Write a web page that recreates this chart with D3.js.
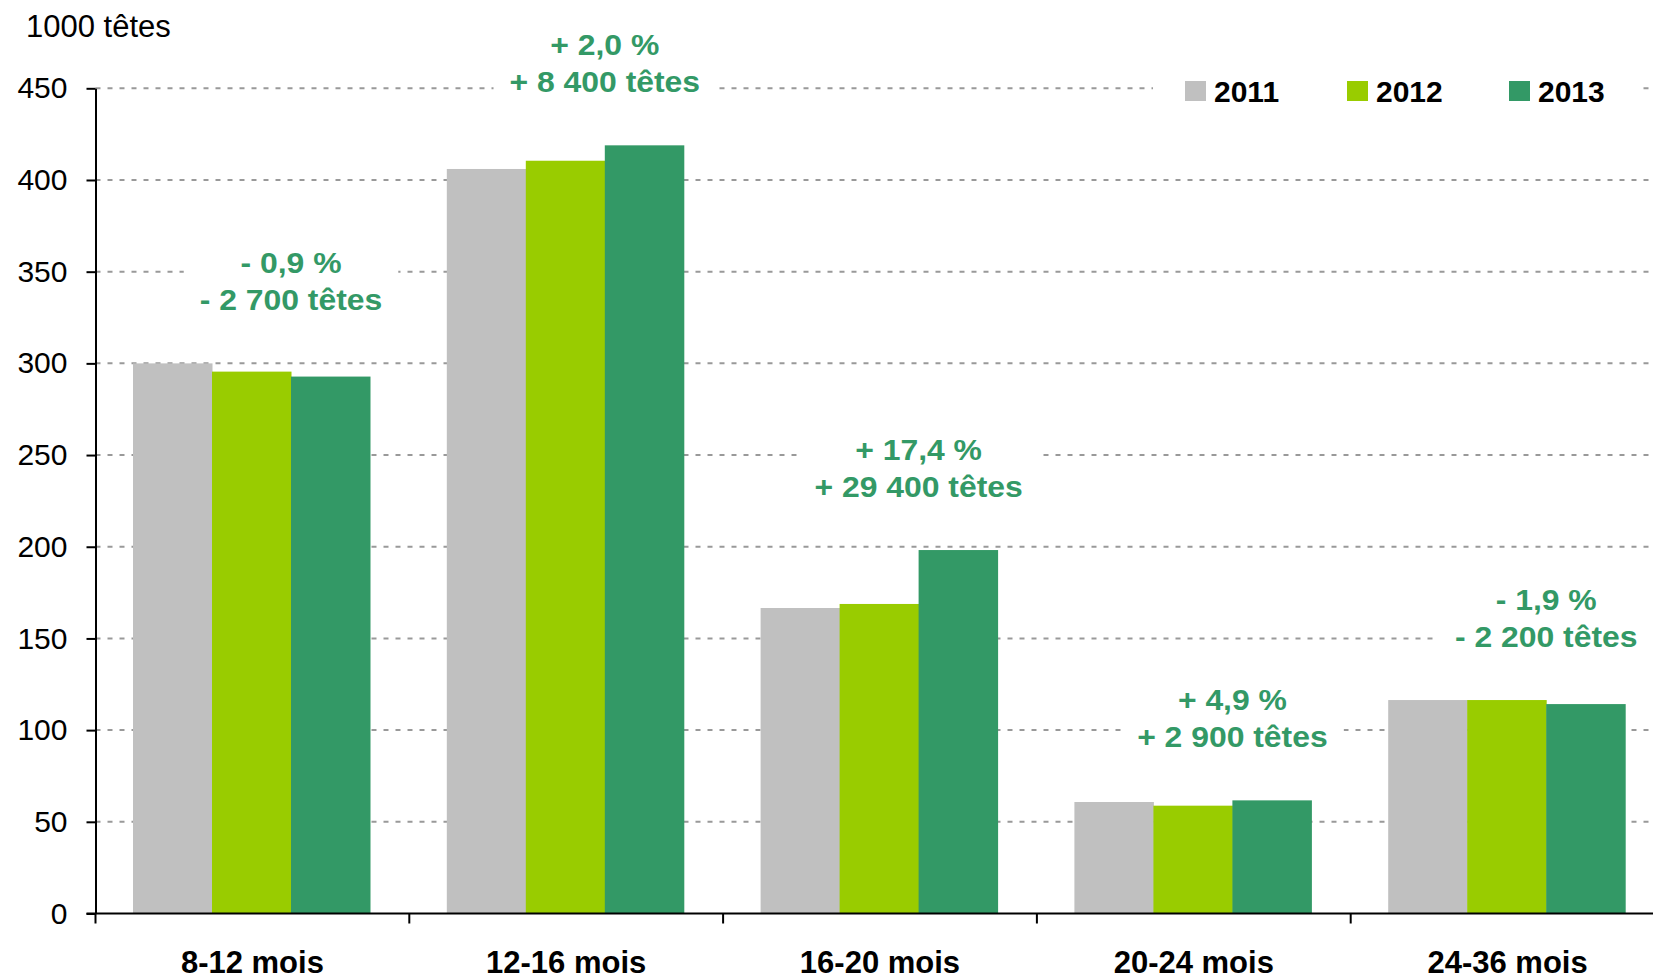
<!DOCTYPE html>
<html>
<head>
<meta charset="utf-8">
<script src="https://cdn.jsdelivr.net/npm/d3@7"></script>
<style>
  body { margin: 0; background: #fff; }
  text { font-family: "Liberation Sans", Arial, sans-serif; }
</style>
</head>
<body>
<div id="chart"></div>
<script>
// data (1000 têtes)
var categories = ["8-12 mois", "12-16 mois", "16-20 mois", "20-24 mois", "24-36 mois"];
var years = ["2011", "2012", "2013"];
var values2011 = [300, 406, 166.6, 60.8, 116.4];
var values2012 = [295.5, 410.5, 168.8, 58.8, 116.4];
var values2013 = [292.8, 418.9, 198.2, 61.7, 114.2];
var changePct = ["- 0,9 %", "+ 2,0 %", "+ 17,4 %", "+ 4,9 %", "- 1,9 %"];
var changeHeads = ["- 2 700 têtes", "+ 8 400 têtes", "+ 29 400 têtes", "+ 2 900 têtes", "- 2 200 têtes"];
var yTicks = [0, 50, 100, 150, 200, 250, 300, 350, 400, 450];
var colors = ["#C0C0C0", "#99CC00", "#339966"];

var W = 1653, H = 978;
var plotLeft = 95.5, plotTop = 88.3, plotBottom = 913.5;
var bandW = 313.8;

var svg = d3.select("#chart").append("svg")
    .attr("width", W)
    .attr("height", H);

var x0 = d3.scaleBand()
    .domain(categories)
    .range([plotLeft, plotLeft + 5 * bandW])
    .padding(0);

var x1 = d3.scaleBand()
    .domain(years)
    .range([37.5, 37.5 + 237]);

var y = d3.scaleLinear()
    .domain([0, 450])
    .range([plotBottom, plotTop]);

var color = d3.scaleOrdinal().domain(years).range(colors);

// gridlines
svg.append("g").selectAll("line")
    .data(yTicks.slice(1))
  .enter().append("line")
    .attr("x1", plotLeft)
    .attr("x2", W)
    .attr("y1", function(d) { return y(d); })
    .attr("y2", function(d) { return y(d); })
    .attr("stroke", "#999")
    .attr("stroke-width", 2)
    .attr("stroke-dasharray", "5,7");

// bars
var table = categories.map(function(c, i) {
  return {cat: c, vals: [values2011[i], values2012[i], values2013[i]]};
});

var groups = svg.append("g").selectAll("g")
    .data(table)
  .enter().append("g")
    .attr("transform", function(d) { return "translate(" + x0(d.cat) + ",0)"; });

groups.selectAll("rect")
    .data(function(d) {
      return years.map(function(yr, j) { return {key: yr, value: d.vals[j]}; });
    })
  .enter().append("rect")
    .attr("x", function(d) { return x1(d.key); })
    .attr("width", x1.bandwidth() + 0.5)
    .attr("y", function(d) { return y(d.value); })
    .attr("height", function(d) { return plotBottom - y(d.value); })
    .attr("fill", function(d) { return color(d.key); });

// annotations with white background (text slightly stretched like the original)
var notes = svg.append("g").selectAll("g")
    .data(table)
  .enter().append("g");

notes.each(function(d, i) {
  var cx = x0(d.cat) + x1("2013");
  var base = y(d3.max(d.vals)) - 53;
  var g = d3.select(this).attr("transform", "translate(" + cx + ",0)");
  var bg = g.append("rect").attr("fill", "#fff");
  var t = g.append("text")
      .attr("transform", "scale(1.1,1)")
      .attr("text-anchor", "middle")
      .attr("fill", "#339966")
      .style("font-size", "29px")
      .style("font-weight", "bold");
  t.append("tspan").attr("x", 0).attr("y", base - 37).text(changePct[i]);
  t.append("tspan").attr("x", 0).attr("y", base).text(changeHeads[i]);
  var bb = t.node().getBBox();
  bg.attr("x", bb.x * 1.1 - 16).attr("y", bb.y - 4)
    .attr("width", bb.width * 1.1 + 32).attr("height", bb.height + 8);
});

// y axis
var yAxis = svg.append("g")
    .attr("transform", "translate(" + plotLeft + ",0)")
    .call(d3.axisLeft(y).tickValues(yTicks).tickSize(9).tickPadding(19).tickSizeOuter(0));
yAxis.select(".domain").attr("stroke", "#000").attr("stroke-width", 2);
yAxis.selectAll(".tick line").attr("stroke", "#000").attr("stroke-width", 2);
yAxis.selectAll("text")
    .style("font-size", "30px")
    .style("font-family", "'Liberation Sans', Arial, sans-serif")
    .attr("fill", "#000");

// x axis
var xAxis = svg.append("g")
    .attr("transform", "translate(0," + plotBottom + ")");
xAxis.append("line")
    .attr("x1", plotLeft - 9).attr("x2", W)
    .attr("stroke", "#000").attr("stroke-width", 2);
xAxis.selectAll("line.tk")
    .data(categories.concat([null]))
  .enter().append("line")
    .attr("class", "tk")
    .attr("x1", function(d, i) { return plotLeft + i * x0.bandwidth(); })
    .attr("x2", function(d, i) { return plotLeft + i * x0.bandwidth(); })
    .attr("y1", 0).attr("y2", 10)
    .attr("stroke", "#000").attr("stroke-width", 2);
xAxis.selectAll("text")
    .data(categories)
  .enter().append("text")
    .attr("x", function(d) { return x0(d) + x0.bandwidth() / 2; })
    .attr("y", 59)
    .attr("text-anchor", "middle")
    .style("font-size", "31px")
    .style("font-weight", "bold")
    .text(function(d) { return d; });

// unit label
svg.append("text")
    .attr("x", 26).attr("y", 37)
    .style("font-size", "31px")
    .text("1000 têtes");

// legend
var legend = svg.append("g");
legend.append("rect")
    .attr("x", 1153).attr("y", 70)
    .attr("width", 487).attr("height", 40)
    .attr("fill", "#fff");
var items = legend.selectAll("g.item")
    .data(years)
  .enter().append("g")
    .attr("class", "item")
    .attr("transform", function(d, i) { return "translate(" + (1185 + i * 162) + ",81)"; });
items.append("rect")
    .attr("width", 21).attr("height", 20)
    .attr("fill", function(d) { return color(d); });
items.append("text")
    .attr("x", 29).attr("y", 21)
    .style("font-size", "30px")
    .style("font-weight", "bold")
    .text(function(d) { return d; });
</script>
</body>
</html>
